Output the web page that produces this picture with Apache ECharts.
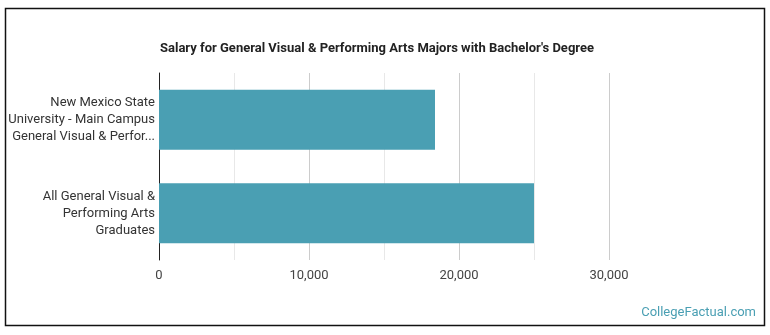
<!DOCTYPE html>
<html>
<head>
<meta charset="utf-8">
<script src="https://cdn.jsdelivr.net/npm/echarts@6/dist/echarts.min.js"></script>
<style>
  html, body { margin: 0; padding: 0; background: #fff; }
  #chart { width: 770px; height: 335px; }
</style>
</head>
<body>
<div id="chart"></div>
<script>
const categories = [
  'New Mexico State\nUniversity - Main Campus\nGeneral Visual & Perfor...',
  'All General Visual &\nPerforming Arts\nGraduates'
];
const salaries = [18400, 25000];
const chartTitle = "Salary for General Visual & Performing Arts Majors with Bachelor's Degree";
const sourceText = 'CollegeFactual.com';

const myChart = echarts.init(document.getElementById('chart'));

const option = {
  animation: false,
  textStyle: { fontFamily: 'Roboto' },
  title: {
    text: chartTitle,
    left: 372,
    textAlign: 'center',
    top: 37,
    textStyle: { fontSize: 13, fontWeight: 'bold', color: '#222', fontFamily: 'Roboto' }
  },
  graphic: [
    {
      type: 'rect',
      shape: { x: 5.5, y: 8.5, width: 759, height: 317 },
      style: { fill: 'none', stroke: '#111', lineWidth: 1.5 },
      z: -1
    },
    {
      type: 'text',
      right: 14,
      bottom: 16,
      style: { text: sourceText, fill: '#4a9fb3', fontSize: 13, fontFamily: 'Roboto' }
    }
  ],
  grid: {
    left: 159,
    right: 161,
    top: 73,
    bottom: 75,
    containLabel: false
  },
  xAxis: {
    type: 'value',
    min: 0,
    max: 30000,
    interval: 10000,
    axisLine: { show: false },
    axisTick: { show: false },
    axisLabel: {
      color: '#444',
      fontSize: 13,
      margin: 9,
      formatter: (v) => v.toLocaleString('en-US')
    },
    splitLine: { show: true, lineStyle: { color: '#cccccc', width: 1 } },
    minorTick: { show: false, splitNumber: 2 },
    minorSplitLine: { show: true, lineStyle: { color: '#e8e8e8', width: 1 } }
  },
  yAxis: {
    type: 'category',
    inverse: true,
    data: categories,
    axisLine: { show: true, lineStyle: { color: '#222', width: 1 } },
    axisTick: { show: false },
    axisLabel: {
      color: '#333',
      fontSize: 13,
      lineHeight: 17,
      margin: 4,
      align: 'right'
    }
  },
  series: [
    {
      type: 'bar',
      data: salaries,
      barCategoryGap: '36%',
      itemStyle: { color: '#4a9fb3' }
    }
  ]
};

myChart.setOption(option);
</script>
</body>
</html>
